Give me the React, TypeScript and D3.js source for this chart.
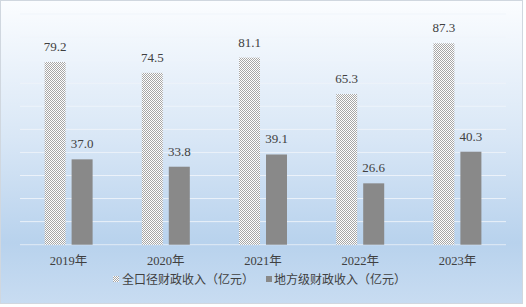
import React from "react";
import * as d3 from "d3";

const categories = ["2019年", "2020年", "2021年", "2022年", "2023年"];
const totalRevenue = [79.2, 74.5, 81.1, 65.3, 87.3];
const localRevenue = [37.0, 33.8, 39.1, 26.6, 40.3];
const seriesNames = ["全口径财政收入（亿元）", "地方级财政收入（亿元）"];
const yTicks = d3.range(0, 101, 10);

const W = 526;
const H = 307;
const margin = { left: 20, right: 20, top: 14, bottom: 62 };
const font = "'Liberation Serif', 'Noto Sans CJK SC', serif";
const cjkFont = "'Noto Sans CJK SC', sans-serif";

export default function App() {
  const x = d3
    .scaleBand<string>()
    .domain(categories)
    .range([margin.left, W - margin.right])
    .paddingInner(0)
    .paddingOuter(0);
  const y = d3.scaleLinear().domain([0, 100]).range([244.7, 14]);
  const barW = 21;
  const gap = 6;
  const textColor = "#404040";

  return (
    <svg width={W} height={H} style={{ position: "absolute", left: 0, top: 0 }}>
      <defs>
        <linearGradient id="bg" x1="0" y1="0" x2="0" y2="1">
          <stop offset="0" stopColor="#fbfdff" />
          <stop offset="0.45" stopColor="#d9e7f6" />
          <stop offset="0.8" stopColor="#b8d2ed" />
          <stop offset="1" stopColor="#c8dcf1" />
        </linearGradient>
        <pattern id="dots" width="2" height="2" patternUnits="userSpaceOnUse">
          <rect width="2" height="2" fill="#ffffff" />
          <rect x="0" y="0" width="1" height="1" fill="#a6a6a6" />
          <rect x="1" y="1" width="1" height="1" fill="#a6a6a6" />
        </pattern>
      </defs>
      <rect x={0.5} y={0.5} width={W - 4} height={H - 4} fill="url(#bg)" stroke="#d0d7df" />
      {yTicks.map((t) => (
        <line
          key={t}
          x1={margin.left}
          x2={W - margin.right}
          y1={y(t)}
          y2={y(t)}
          stroke={t === 0 ? "#e6eef7" : "#f0f5fb"}
          strokeWidth={1}
          opacity={0.9}
        />
      ))}
      {categories.map((c, i) => {
        const cx = (x(c) as number) + x.bandwidth() / 2;
        const x1 = cx - gap / 2 - barW;
        const x2 = cx + gap / 2;
        return (
          <g key={c}>
            <rect x={x1} y={y(totalRevenue[i])} width={barW} height={y(0) - y(totalRevenue[i])} fill="url(#dots)" />
            <rect x={x2} y={y(localRevenue[i])} width={barW} height={y(0) - y(localRevenue[i])} fill="#898989" />
            <text x={x1 + barW / 2} y={y(totalRevenue[i]) - 11} textAnchor="middle" fontSize={13} fill={textColor} fontFamily={font}>
              {totalRevenue[i].toFixed(1)}
            </text>
            <text x={x2 + barW / 2} y={y(localRevenue[i]) - 11} textAnchor="middle" fontSize={13} fill={textColor} fontFamily={font}>
              {localRevenue[i].toFixed(1)}
            </text>
            <text x={cx} y={265} textAnchor="middle" fontSize={12.5} fill={textColor} fontFamily={font}>
              {c}
            </text>
          </g>
        );
      })}
      <g>
        <rect x={113} y={276} width={6} height={6} fill="url(#dots)" />
        <text x={122} y={284} fontSize={12} fill={textColor} fontFamily={cjkFont}>
          {seriesNames[0]}
        </text>
        <rect x={266} y={276} width={6} height={6} fill="#898989" />
        <text x={274} y={284} fontSize={12} fill={textColor} fontFamily={cjkFont}>
          {seriesNames[1]}
        </text>
      </g>
    </svg>
  );
}
